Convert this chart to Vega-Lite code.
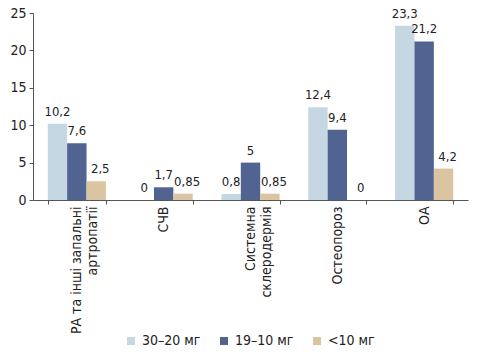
{
  "$schema": "https://vega.github.io/schema/vega-lite/v6.json",
  "width": 435,
  "height": 187,
  "autosize": "none",
  "padding": {"left": 33, "top": 13, "right": 10, "bottom": 154},
  "data": {
    "values": [
      {"cat": "РА та інші запальні\nартропатії", "series": "30–20 мг", "value": 10.2, "label": "10,2"},
      {"cat": "РА та інші запальні\nартропатії", "series": "19–10 мг", "value": 7.6, "label": "7,6"},
      {"cat": "РА та інші запальні\nартропатії", "series": "<10 мг", "value": 2.5, "label": "2,5"},
      {"cat": "СЧВ", "series": "30–20 мг", "value": 0, "label": "0"},
      {"cat": "СЧВ", "series": "19–10 мг", "value": 1.7, "label": "1,7"},
      {"cat": "СЧВ", "series": "<10 мг", "value": 0.85, "label": "0,85"},
      {"cat": "Системна\nсклеродермія", "series": "30–20 мг", "value": 0.8, "label": "0,8"},
      {"cat": "Системна\nсклеродермія", "series": "19–10 мг", "value": 5, "label": "5"},
      {"cat": "Системна\nсклеродермія", "series": "<10 мг", "value": 0.85, "label": "0,85"},
      {"cat": "Остеопороз", "series": "30–20 мг", "value": 12.4, "label": "12,4"},
      {"cat": "Остеопороз", "series": "19–10 мг", "value": 9.4, "label": "9,4"},
      {"cat": "Остеопороз", "series": "<10 мг", "value": 0, "label": "0"},
      {"cat": "ОА", "series": "30–20 мг", "value": 23.3, "label": "23,3"},
      {"cat": "ОА", "series": "19–10 мг", "value": 21.2, "label": "21,2"},
      {"cat": "ОА", "series": "<10 мг", "value": 4.2, "label": "4,2"}
    ]
  },
  "encoding": {
    "x": {
      "field": "cat", "type": "nominal", "sort": null,
      "scale": {"paddingInner": 0.33, "paddingOuter": 0.17},
      "axis": {
        "title": null, "labelAngle": -90, "labelAlign": "right", "labelBaseline": "middle",
        "labelExpr": "split(datum.label, '\\n')",
        "tickBand": "extent", "tickSize": 4, "labelPadding": 2, "labelLineHeight": 16
      }
    },
    "xOffset": {"field": "series", "type": "nominal", "sort": ["30–20 мг", "19–10 мг", "<10 мг"]},
    "y": {
      "field": "value", "type": "quantitative",
      "scale": {"domain": [0, 25]},
      "axis": {"title": null, "values": [0, 5, 10, 15, 20, 25], "grid": false, "tickSize": 4, "labelPadding": 3}
    }
  },
  "layer": [
    {
      "mark": {"type": "bar"},
      "encoding": {
        "color": {
          "field": "series", "type": "nominal",
          "sort": ["30–20 мг", "19–10 мг", "<10 мг"],
          "scale": {"domain": ["30–20 мг", "19–10 мг", "<10 мг"], "range": ["#c6d7e4", "#506391", "#dbc4a2"]},
          "legend": {"title": null, "orient": "none", "legendX": 91, "legendY": 321, "direction": "horizontal", "symbolType": "square", "symbolSize": 64, "columnPadding": 16, "labelFontSize": 14}
        }
      }
    },
    {
      "transform": [{"filter": "datum.series !== '<10 мг'"}],
      "mark": {"type": "text", "baseline": "bottom", "dy": -5, "fontSize": 13, "color": "#222"},
      "encoding": {"text": {"field": "label"}}
    },
    {
      "transform": [{"filter": "datum.series === '<10 мг'"}],
      "mark": {"type": "text", "baseline": "bottom", "dy": -5, "dx": 4, "fontSize": 13, "color": "#222"},
      "encoding": {"text": {"field": "label"}}
    }
  ],
  "config": {
    "view": {"stroke": null},
    "font": "DejaVu Sans Condensed, sans-serif",
    "axis": {"labelFontSize": 14, "labelColor": "#222", "domainColor": "#555", "tickColor": "#555", "labelFont": "DejaVu Sans Condensed, sans-serif"},
    "legend": {"labelColor": "#222", "labelFont": "DejaVu Sans Condensed, sans-serif"},
    "text": {"font": "DejaVu Sans Condensed, sans-serif"}
  }
}
